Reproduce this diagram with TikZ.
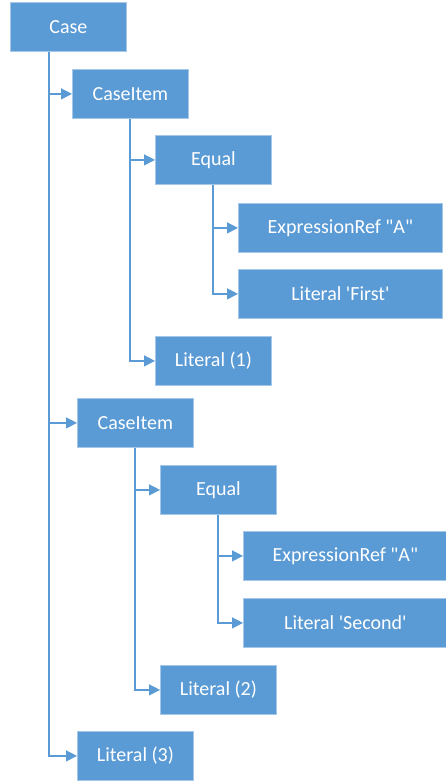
\documentclass[tikz,border=0pt]{standalone}
\usepackage{fontspec}
\setmainfont{Carlito}
\usetikzlibrary{arrows.meta}
\definecolor{boxblue}{HTML}{5B9BD5}

\tikzset{
  treebox/.style={draw=boxblue!55!white, line width=0.8pt, fill=boxblue,
    text=white, minimum width=116pt, minimum height=49pt, inner sep=0pt,
    anchor=north west, font=\fontsize{20}{23}\selectfont},
  widebox/.style={treebox, minimum width=204pt},
  link/.style={draw=boxblue, line width=1.3pt,
    -{Triangle[length=11pt,width=11pt]}}
}

\begin{document}
\begin{tikzpicture}[x=1pt, y=-1pt]
  \useasboundingbox (0,0) rectangle (446,782);
  % boxes
  \node[treebox] (case)   at (10,2)    {Case};
  \node[treebox] (item1)  at (72,69)   {CaseItem};
  \node[treebox] (eq1)    at (155,135) {Equal};
  \node[widebox] (ref1)   at (238,203) {ExpressionRef \textquotedbl A\textquotedbl};
  \node[widebox] (first)  at (238,269) {Literal \textquotesingle First\textquotesingle};
  \node[treebox] (lit1)   at (155,336) {Literal (1)};
  \node[treebox] (item2)  at (77,398)  {CaseItem};
  \node[treebox] (eq2)    at (160,465) {Equal};
  \node[widebox] (ref2)   at (243,531) {ExpressionRef \textquotedbl A\textquotedbl};
  \node[widebox] (second) at (243,598) {Literal \textquotesingle Second\textquotesingle};
  \node[treebox] (lit2)   at (160,665) {Literal (2)};
  \node[treebox] (lit3)   at (77,731)  {Literal (3)};
  % connectors
  \draw[link] ([xshift=39pt]case.south west) |- (item1.west);
  \draw[link] ([xshift=39pt]case.south west) |- (item2.west);
  \draw[link] ([xshift=39pt]case.south west) |- (lit3.west);
  \draw[link] ([xshift=58pt]item1.south west) |- (eq1.west);
  \draw[link] ([xshift=58pt]item1.south west) |- (lit1.west);
  \draw[link] ([xshift=58pt]eq1.south west) |- (ref1.west);
  \draw[link] ([xshift=58pt]eq1.south west) |- (first.west);
  \draw[link] ([xshift=58pt]item2.south west) |- (eq2.west);
  \draw[link] ([xshift=58pt]item2.south west) |- (lit2.west);
  \draw[link] ([xshift=58pt]eq2.south west) |- (ref2.west);
  \draw[link] ([xshift=58pt]eq2.south west) |- (second.west);
\end{tikzpicture}
\end{document}
